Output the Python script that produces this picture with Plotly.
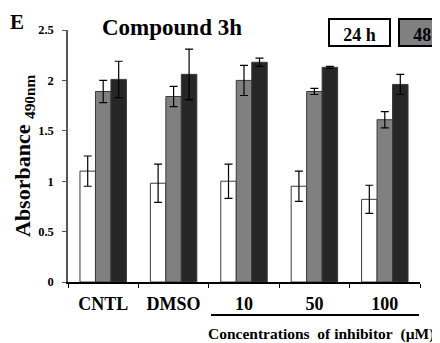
import plotly.graph_objects as go

categories = ["CNTL", "DMSO", "10", "50", "100"]
series_names = ["24 h", "48 h", "72 h"]
v24 = [1.10, 0.98, 1.00, 0.95, 0.82]
e24 = [0.15, 0.19, 0.17, 0.15, 0.14]
v48 = [1.89, 1.84, 2.00, 1.89, 1.61]
e48 = [0.11, 0.10, 0.15, 0.03, 0.08]
v72 = [2.01, 2.06, 2.18, 2.13, 1.96]
e72 = [0.18, 0.25, 0.04, 0.01, 0.10]
y_ticks = [0, 0.5, 1, 1.5, 2, 2.5]
y_tick_labels = ["0", "0.5", "1", "1.5", "2", "2.5"]

colors = ["#ffffff", "#808080", "#262626"]
values = [v24, v48, v72]
errors = [e24, e48, e72]

# the page body has an 8px margin, so the figure is offset by 8px
OFF = 8
W, H = 440 - OFF, 343 - OFF
L, R, T, B = 68 - OFF, 20, 30 - OFF, 61
pw, ph = W - L - R, H - T - B


def px(x):  # page pixel -> paper x
    return (x - OFF - L) / pw


def py(y):  # page pixel -> paper y
    return (H - B - (y - OFF)) / ph


FONT = "'Liberation Serif', 'Times New Roman', 'DejaVu Serif', serif"

fig = go.Figure()
for name, vals, errs, col in zip(series_names, values, errors, colors):
    fig.add_trace(go.Bar(
        x=categories, y=vals, name=name,
        marker=dict(color=col, line=dict(color="#3a3a3a", width=1)),
        error_y=dict(type="data", array=errs, color="black", thickness=1.2, width=4),
    ))

annotations = [
    dict(text="<b>E</b>", x=px(17), y=py(8), xref="paper", yref="paper", showarrow=False,
         xanchor="center", yanchor="top",
         font=dict(family=FONT, size=21, color="black")),
    dict(text="<b>Absorbance <sub>490nm</sub></b>", x=px(24), y=0.5, xref="paper", yref="paper",
         xanchor="center", yanchor="middle",
         showarrow=False, textangle=-90,
         font=dict(family=FONT, size=22, color="black")),
    dict(text="<b>Concentrations\u00a0\u00a0of\u00a0inhibitor\u00a0\u00a0(\u00b5M)</b>", x=px(321), y=py(334),
         xref="paper", yref="paper", showarrow=False, xanchor="center", yanchor="middle",
         font=dict(family=FONT, size=15.5, color="black")),
]
# legend boxes (the third one lies beyond the visible page in the reference)
box_left = 328
for i, (name, col) in enumerate(zip(series_names[:2], colors[:2])):
    annotations.append(dict(
        text="<b>" + name + "</b>", x=px(box_left + i * 70), y=py(18), xref="paper", yref="paper",
        xanchor="left", yanchor="top", showarrow=False,
        width=59, height=25, borderpad=0, borderwidth=2, bordercolor="black",
        bgcolor=col, valign="bottom",
        font=dict(family=FONT, size=18, color="black"),
    ))

fig.update_layout(
    width=W, height=H,
    margin=dict(l=L, r=R, t=T, b=B),
    paper_bgcolor="white", plot_bgcolor="white",
    barmode="group", bargap=0.34, bargroupgap=0,
    showlegend=False,
    title=dict(text="<b>Compound 3h</b>", x=px(172), xref="paper", xanchor="center",
               y=1 - (27 - OFF) / H, yref="container", yanchor="middle",
               font=dict(family=FONT, size=23, color="black")),
    annotations=annotations,
    shapes=[dict(type="line", xref="paper", yref="paper", x0=px(211), x1=px(419),
                 y0=py(315), y1=py(315), line=dict(color="black", width=2))],
    xaxis=dict(type="category", showline=True, linecolor="black", linewidth=2,
               ticks="outside", tickson="boundaries", ticklen=4, tickcolor="black",
               ticklabelstandoff=4,
               showgrid=False, zeroline=False,
               tickvals=categories, ticktext=["<b>" + c + "</b>" for c in categories],
               tickfont=dict(family=FONT, size=18, color="black")),
    yaxis=dict(range=[0, 2.5], tickvals=y_ticks, ticktext=["<b>" + t + "</b>" for t in y_tick_labels],
               showline=True, linecolor="#555555", linewidth=1.5,
               ticks="outside", ticklen=4, tickcolor="#555555", ticklabelstandoff=6,
               showgrid=False, zeroline=False,
               tickfont=dict(family=FONT, size=12.5, color="black")),
)

fig.write_html("out.html")
